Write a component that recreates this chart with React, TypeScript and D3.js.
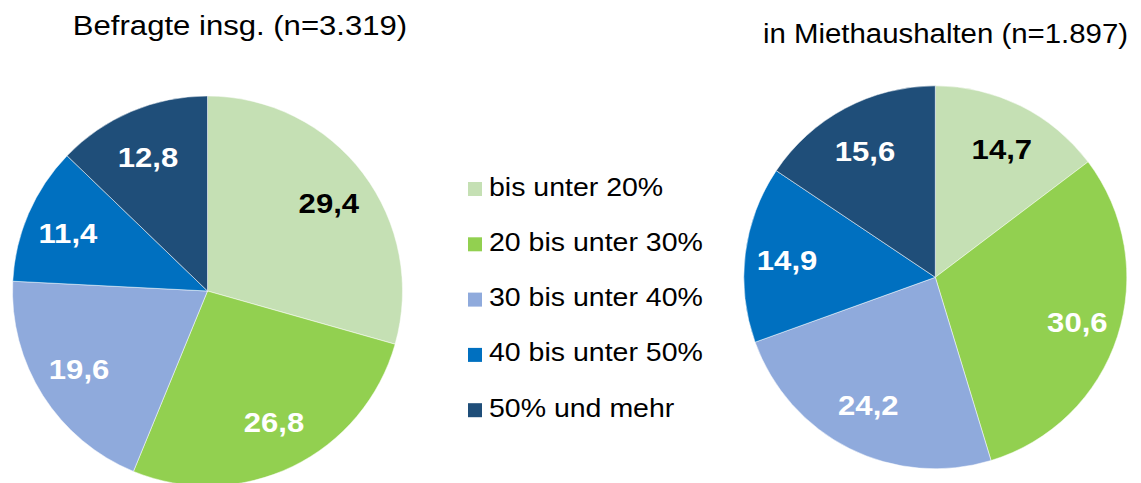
import React from "react";
import * as d3 from "d3";

const categories = [
  "bis unter 20%",
  "20 bis unter 30%",
  "30 bis unter 40%",
  "40 bis unter 50%",
  "50% und mehr",
];
const colors = ["#C5E0B4", "#92D050", "#8FAADC", "#0070C0", "#1F4E79"];
const labelColors = ["#000000", "#ffffff", "#ffffff", "#ffffff", "#ffffff"];

const totalValues = [29.4, 26.8, 19.6, 11.4, 12.8];
const rentValues = [14.7, 30.6, 24.2, 14.9, 15.6];

const titles = ["Befragte insg. (n=3.319)", "in Miethaushalten (n=1.897)"];

const W = 1141;
const H = 483;
const FONT = "'Liberation Sans', Arial, Helvetica, sans-serif";
const SX = 1.11;

type PieProps = { values: number[]; cx: number; cy: number; r: number };

function Pie({ values, cx, cy, r }: PieProps) {
  const pie = d3.pie<number>().sort(null).value((d) => d);
  const arcs = pie(values);
  const arc = d3.arc<d3.PieArcDatum<number>>().innerRadius(0).outerRadius(r);
  const labelArc = d3
    .arc<d3.PieArcDatum<number>>()
    .innerRadius(r * 0.78)
    .outerRadius(r * 0.78);
  const fmt = (v: number) => v.toFixed(1).replace(".", ",");
  return (
    <g transform={`translate(${cx},${cy})`}>
      {arcs.map((a, i) => (
        <path
          key={"s" + i}
          d={arc(a) || ""}
          fill={colors[i]}
          stroke="#ffffff"
          strokeWidth={0.5}
        />
      ))}
      {arcs.map((a, i) => {
        const [x, y] = labelArc.centroid(a);
        return (
          <g key={"l" + i} transform={`translate(${x},${y * 0.96}) scale(${SX},1)`}>
            <text
              textAnchor="middle"
              dominantBaseline="central"
              fontFamily={FONT}
              fontWeight="bold"
              fontSize={28}
              fill={labelColors[i]}
            >
              {fmt(a.data)}
            </text>
          </g>
        );
      })}
    </g>
  );
}

export default function App() {
  const legendX = 468;
  const legendY0 = 189;
  const legendStep = 55.3;
  return (
    <svg
      width={W}
      height={H}
      style={{ position: "absolute", left: 0, top: 0, background: "#ffffff" }}
    >
      <rect width={W} height={H} fill="#ffffff" />
      <Pie values={totalValues} cx={207.5} cy={291} r={195} />
      <Pie values={rentValues} cx={935.3} cy={277.3} r={191.5} />

      <g transform={`translate(240,35) scale(${SX},1)`}>
        <text textAnchor="middle" fontFamily={FONT} fontSize={28} fill="#000">
          {titles[0]}
        </text>
      </g>
      <g transform={`translate(945.5,43) scale(1.05,1)`}>
        <text textAnchor="middle" fontFamily={FONT} fontSize={28} fill="#000">
          {titles[1]}
        </text>
      </g>

      {categories.map((c, i) => {
        const y = legendY0 + i * legendStep;
        return (
          <g key={c}>
            <rect x={legendX} y={y - 7} width={14} height={14} fill={colors[i]} />
            <g transform={`translate(${legendX + 21},${y + 6.5}) scale(1.14,1)`}>
              <text fontFamily={FONT} fontSize={25} fill="#000">
                {c}
              </text>
            </g>
          </g>
        );
      })}
    </svg>
  );
}
